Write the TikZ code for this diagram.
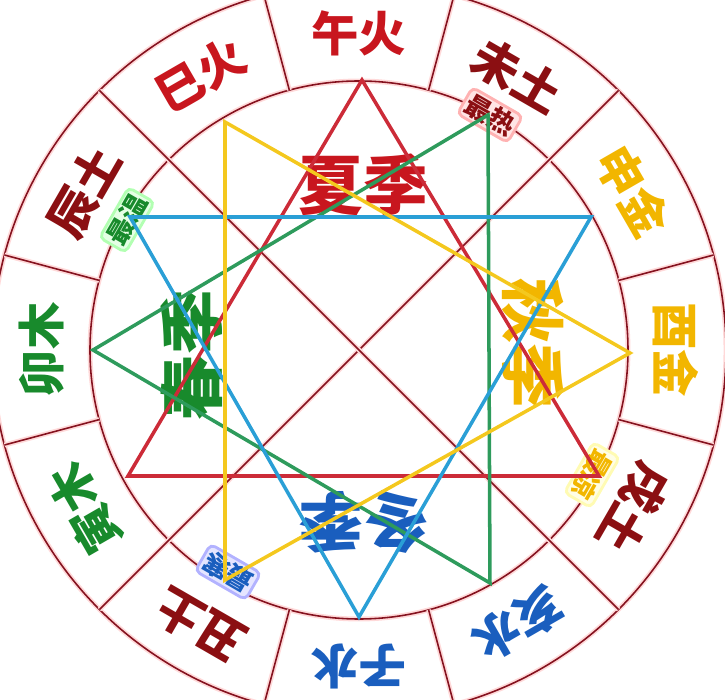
\documentclass[tikz,border=0pt]{standalone}
\usepackage{fontspec}
\usepackage{tikz}
\usetikzlibrary{positioning}
\newfontfamily\cjk{Noto Sans CJK SC}

\definecolor{ringred}{HTML}{85121F}
\definecolor{firered}{HTML}{C8161E}
\definecolor{earthred}{HTML}{8B0F12}
\definecolor{metalgold}{HTML}{F2B600}
\definecolor{waterblue}{HTML}{1A5EBE}
\definecolor{woodgreen}{HTML}{188A2C}
\definecolor{trired}{HTML}{CC2B38}
\definecolor{trigreen}{HTML}{2E9B5C}
\definecolor{triblue}{HTML}{2A9FD6}
\definecolor{triyellow}{HTML}{F4C81E}

\tikzset{
  ringline/.style={draw=ringred, line width=0.9pt, preaction={draw=red!15, line width=2.8pt}},
  branch/.style={font=\cjk\bfseries\fontsize{27}{27}\selectfont, inner sep=0pt},
  season/.style={font=\cjk\bfseries\fontsize{37}{37}\selectfont, inner sep=0pt},
  tagbox/.style={font=\cjk\bfseries\fontsize{15}{15}\selectfont, inner sep=1.5pt,
    rounded corners=3pt, fill=#1!10, draw=#1!30, line width=1.6pt},
  triline/.style={line width=2pt, line join=miter}
}

\begin{document}
\begin{tikzpicture}[x=0.02cm, y=0.02cm]
    \useasboundingbox (-359,-350) rectangle (366,350);

    % 外圈与内圈
    \draw[ringline] (0,0) circle (367);
    \draw[ringline] (0,0) circle (269);

    % 对角线
    \draw[ringline] (45:367) -- (225:367);
    \draw[ringline] (135:367) -- (315:367);

    % 分隔线
    \draw[ringline] (15:269) -- (15:367);
    \draw[ringline] (75:269) -- (75:367);
    \draw[ringline] (105:269) -- (105:367);
    \draw[ringline] (165:269) -- (165:367);
    \draw[ringline] (195:269) -- (195:367);
    \draw[ringline] (255:269) -- (255:367);
    \draw[ringline] (285:269) -- (285:367);
    \draw[ringline] (345:269) -- (345:367);

    % 十二地支
    \node[branch, text=firered] (wu) at (90:317) {午火};
    \node[branch, text=firered, rotate=30] (si) at (120:317) {巳火};
    \node[branch, text=earthred, rotate=60] (chen) at (150:317) {辰土};
    \node[branch, text=woodgreen, rotate=90] (mao) at (180:317) {卯木};
    \node[branch, text=woodgreen, rotate=120] (yin) at (210:317) {寅木};
    \node[branch, text=earthred, rotate=150] (chou) at (240:318) {丑土};
    \node[branch, text=waterblue, rotate=180] (zi) at (270:317) {子水};
    \node[branch, text=waterblue, rotate=210] (hai) at (300:317) {亥水};
    \node[branch, text=earthred, rotate=240] (xu) at (330:317) {戌土};
    \node[branch, text=metalgold, rotate=-90] (you) at (0:317) {酉金};
    \node[branch, text=metalgold, rotate=-60] (shen) at (30:317) {申金};
    \node[branch, text=earthred, rotate=-30] (wei) at (60:317) {未土};

    % 四季
    \node[season, text=firered] (xia) at (5,165) {夏季};
    \node[season, text=metalgold, rotate=-90] (qiu) at (174,6) {秋季};
    \node[season, text=waterblue, rotate=180] (dong) at (5,-172) {冬季};
    \node[season, text=woodgreen, rotate=90] (chun) at (-167,-5) {春季};

    % 三角形顶点
    \coordinate (r1) at (3,270);
    \coordinate (r2) at (-231,-126);
    \coordinate (r3) at (240,-126);
    \coordinate (g1) at (129,235);
    \coordinate (g2) at (-266,0);
    \coordinate (g3) at (131,-233);
    \coordinate (b1) at (-229,133);
    \coordinate (b2) at (232,133);
    \coordinate (b3) at (0,-267);
    \coordinate (y1) at (-134,228);
    \coordinate (y2) at (271,-3);
    \coordinate (y3) at (-134,-230);

    % 最热 最温 最凉 最寒
    \node[tagbox=red, text=earthred, rotate=-30] (hot) at (131,235) {最热};
    \node[tagbox=green, text=woodgreen, rotate=60] (warm) at (-232,130) {最温};
    \node[tagbox=yellow, text=metalgold, rotate=-120] (cool) at (233,-125) {最凉};
    \node[tagbox=blue, text=waterblue, rotate=150] (cold) at (-131,-222) {最寒};

    % 四个三角形
    \draw[triline, trired] (r1) -- (r2) -- (r3) -- cycle;
    \draw[triline, trigreen] (g1) -- (g2) -- (g3) -- cycle;
    \draw[triline, triblue] (b1) -- (b2) -- (b3) -- cycle;
    \draw[triline, triyellow] (y1) -- (y2) -- (y3) -- cycle;

\end{tikzpicture}
\end{document}
